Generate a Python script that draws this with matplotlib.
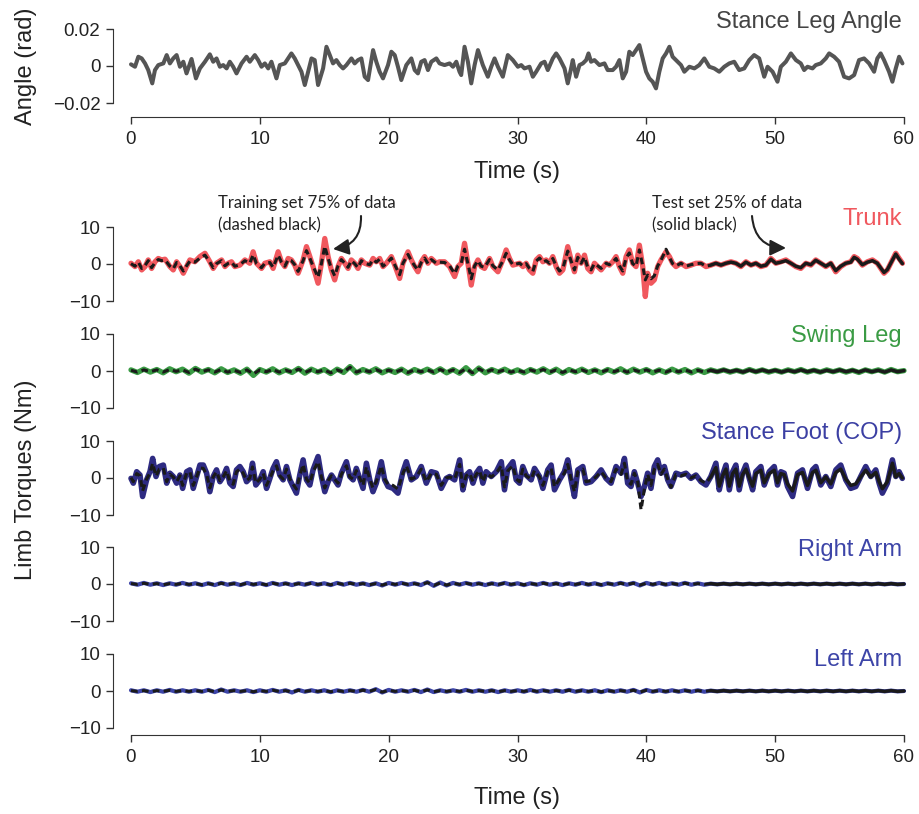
import numpy as np
import matplotlib
matplotlib.use("Agg")
import matplotlib.pyplot as plt

plt.rcParams['font.family'] = ['Liberation Sans', 'DejaVu Sans']

# ---------------- data ----------------
# Stance leg angle (mrad)
angle_t = [0.00, 0.31, 0.57, 0.83, 1.09, 1.34, 1.65, 1.86, 2.12, 2.51,
           2.77, 3.02, 3.28, 3.54, 3.80, 4.06, 4.31, 4.70, 5.04, 5.35,
           5.74, 6.12, 6.38, 6.64, 6.90, 7.16, 7.42, 7.67, 7.93, 8.19,
           8.58, 8.97, 9.22, 9.61, 9.87, 10.13, 10.39, 10.65, 10.90, 11.29,
           11.55, 11.94, 12.20, 12.45, 12.71, 12.97, 13.23, 13.49, 13.75, 14.01,
           14.26, 14.52, 14.91, 15.17, 15.43, 15.68, 15.94, 16.20, 16.46, 16.72,
           17.11, 17.36, 17.62, 17.88, 18.14, 18.40, 18.79, 19.04, 19.30, 19.56,
           19.95, 20.21, 20.47, 20.72, 20.98, 21.37, 21.76, 22.02, 22.27, 22.53,
           22.79, 23.05, 23.31, 23.70, 23.95, 24.34, 24.73, 24.99, 25.25, 25.50,
           25.63, 25.89, 26.15, 26.41, 26.67, 26.93, 27.31, 27.70, 27.96, 28.22,
           28.48, 28.86, 29.25, 29.64, 30.03, 30.29, 30.54, 30.93, 31.19, 31.45,
           31.84, 32.10, 32.35, 32.74, 33.00, 33.26, 33.65, 33.90, 34.16, 34.29,
           34.55, 34.81, 35.07, 35.33, 35.51, 35.71, 35.97, 36.36, 36.75, 37.00,
           37.39, 37.65, 37.91, 38.17, 38.43, 38.68, 38.94, 39.20, 39.46, 39.72,
           39.98, 40.23, 40.49, 40.75, 41.01, 41.27, 41.53, 41.79, 42.04, 42.43,
           42.69, 42.95, 43.34, 43.73, 44.11, 44.50, 44.89, 45.27, 45.66, 46.05,
           46.44, 46.82, 47.21, 47.60, 47.99, 48.37, 48.76, 49.15, 49.41, 49.80,
           50.18, 50.44, 50.83, 51.22, 51.61, 51.99, 52.25, 52.51, 52.90, 53.15,
           53.54, 53.93, 54.19, 54.58, 54.96, 55.35, 55.74, 56.13, 56.51, 56.90,
           57.29, 57.68, 57.93, 58.19, 58.45, 58.84, 59.10, 59.36, 59.62, 59.88]
angle_mrad = [0.9, -0.4, 5.0, 4.1, 1.4, -2.2, -9.4, -2.2, 0.5, 1.4,
              5.9, 1.4, 4.1, 5.9, -0.4, 2.3, -4.0, 3.8, -6.7, -1.3,
              2.3, 6.3, 2.3, 4.1, -0.4, 0.5, -1.3, 2.3, -0.4, -4.0,
              1.4, 5.0, 2.3, 5.9, 3.2, -0.4, 1.4, -1.3, 2.3, -6.7,
              0.5, 1.4, 4.1, 6.8, 4.1, 0.5, -3.1, -10.3, -3.1, 4.1,
              3.2, -10.3, -1.3, 10.4, 5.9, 1.4, 3.2, 0.5, -1.3, 0.5,
              4.1, 1.4, 3.2, 4.1, -5.8, -7.6, 8.6, 2.3, -3.1, -6.7,
              0.5, 7.7, 5.9, -0.4, -7.6, 0.5, 4.1, -2.2, -4.0, 2.3,
              3.2, -2.2, 2.3, 4.1, 1.4, 0.5, 1.4, -0.4, 2.3, -3.1,
              -4.9, 10.4, 2.3, -9.4, 0.5, 8.6, 0.5, -5.8, -0.4, 4.1,
              -0.4, -5.8, 5.9, 3.2, -0.4, 0.5, -1.3, -0.4, -5.8, -3.1,
              1.4, 2.3, -2.2, 4.1, 6.8, 4.1, -1.3, -9.4, -1.3, 3.2,
              -5.8, 0.5, 1.4, 3.2, 6.8, 2.3, 3.2, 0.5, 1.4, -2.2,
              -2.2, -0.4, 3.2, -6.7, -3.1, 7.7, 5.9, 8.6, 11.3, 4.1,
              -3.1, -6.7, -8.5, -12.1, -3.1, 4.1, 6.8, 10.4, 5.0, 2.3,
              0.5, -3.1, -0.4, -1.3, 0.5, 4.1, -0.4, -1.3, -3.1, -0.4,
              1.4, 2.3, -2.2, -1.3, 3.2, 5.9, 4.1, -5.8, -0.4, -3.1,
              -8.5, -0.4, 2.3, 6.8, 3.2, 1.4, -2.2, -0.4, -1.3, 0.5,
              1.4, 4.1, 6.8, 5.0, 2.3, -5.8, -6.7, -4.9, 3.2, 4.1,
              1.4, -3.1, 4.1, 6.8, 3.2, -3.1, -8.5, -1.3, 5.0, 1.4]

# Trunk torque (Nm): measured (red) and model (black)
trunk_t = [0.00, 0.31, 0.57, 0.83, 1.09, 1.34, 1.60, 1.86, 2.12, 2.38,
           2.64, 3.02, 3.28, 3.54, 3.80, 4.06, 4.31, 4.57, 4.96, 5.35,
           5.74, 6.12, 6.38, 6.64, 7.03, 7.29, 7.55, 7.80, 8.06, 8.45,
           8.84, 9.22, 9.48, 9.74, 10.13, 10.39, 10.78, 11.03, 11.42, 11.68,
           11.94, 12.20, 12.45, 12.71, 12.97, 13.36, 13.62, 13.88, 14.13, 14.52,
           14.78, 15.04, 15.30, 15.55, 15.81, 16.07, 16.33, 16.59, 16.85, 17.10,
           17.36, 17.62, 17.88, 18.14, 18.53, 18.79, 19.04, 19.30, 19.56, 19.82,
           20.21, 20.47, 20.85, 21.11, 21.50, 21.76, 22.02, 22.27, 22.53, 22.79,
           23.05, 23.31, 23.70, 23.95, 24.34, 24.73, 25.12, 25.37, 25.63, 25.89,
           26.15, 26.41, 26.67, 26.93, 27.18, 27.44, 27.83, 28.09, 28.48, 28.86,
           29.12, 29.38, 29.64, 30.16, 30.42, 30.67, 30.93, 31.19, 31.45, 31.71,
           31.97, 32.22, 32.48, 32.74, 33.00, 33.26, 33.52, 33.90, 34.16, 34.42,
           34.68, 34.94, 35.20, 35.45, 35.71, 35.97, 36.23, 36.49, 36.88, 37.13,
           37.39, 37.65, 37.91, 38.17, 38.43, 38.68, 38.94, 39.20, 39.46, 39.72,
           39.92, 40.10, 40.36, 40.62, 40.88, 41.14, 41.53, 41.79, 42.04, 42.30,
           42.69, 43.08, 43.46, 43.85, 44.24, 44.63, 45.01, 45.40, 45.79, 46.18,
           46.57, 46.95, 47.34, 47.73, 48.12, 48.50, 48.89, 49.28, 49.67, 50.05,
           50.44, 50.83, 51.22, 51.60, 51.99, 52.38, 52.77, 53.15, 53.54, 53.93,
           54.32, 54.70, 55.09, 55.48, 55.87, 56.13, 56.38, 56.77, 57.16, 57.55,
           57.93, 58.45, 58.71, 58.97, 59.36, 59.62, 59.88]
trunk_meas = [0.2, -0.7, 0.6, -1.6, -0.7, 1.1, -1.2, 0.6, 1.5, 1.1,
              1.3, -0.7, -1.6, 0.6, -0.7, -2.5, -0.7, 1.1, 0.6, 2.0,
              2.9, 0.6, -1.2, 0.2, 1.1, -0.7, 0.2, 0.6, -0.7, -0.3,
              1.1, 0.2, 3.3, 0.2, -1.2, 0.2, 0.6, -1.2, 3.3, 0.6,
              -0.7, 1.5, 1.1, -0.3, -2.5, 1.1, 4.7, 2.0, -0.7, -5.2,
              0.2, 6.9, 2.0, -1.6, -4.3, -0.7, 1.5, 0.2, -1.2, 1.1,
              0.2, -1.2, 1.1, 0.2, -0.3, 1.5, 0.6, 1.5, -0.7, 0.2,
              2.0, -0.3, -3.9, 0.2, 3.3, 1.1, -0.7, -2.1, 0.6, 2.0,
              0.2, 1.5, 0.2, 0.6, 0.6, -0.7, -3.4, -0.7, 0.2, 5.6,
              0.2, -5.7, -0.7, 1.1, -0.7, -1.2, 1.5, -0.7, -2.1, 1.1,
              3.8, 1.5, -0.3, 0.2, -0.7, 0.2, -1.6, -2.5, 1.1, 2.0,
              0.6, 1.1, 0.2, 2.0, -0.7, -2.5, -1.6, 4.7, 1.1, -2.1,
              2.4, 0.2, 2.4, -1.2, -2.1, 0.2, -0.7, -1.6, 0.2, -0.3,
              0.6, 2.0, -0.7, -2.5, 2.0, 3.8, 0.2, -0.7, 5.1, -0.7,
              -8.8, -2.5, -5.2, -4.3, -0.7, 1.1, 3.3, 2.0, 0.2, -0.7,
              0.2, -0.7, -0.3, 0.2, 0.2, -0.7, -0.3, 0.2, -0.3, 0.2,
              0.6, 0.2, -0.7, 0.6, -0.3, 0.2, -0.7, -0.3, 1.5, 0.2,
              0.6, 1.1, 0.2, -0.7, -1.2, 0.2, -0.3, 1.1, 0.2, -0.7,
              0.2, -2.1, -0.7, 0.2, 0.6, 2.0, 1.5, -0.3, 0.6, 1.1,
              0.2, -2.5, -1.6, 0.2, 2.9, 1.5, 0.2]
trunk_model = [0.1, -0.6, 0.5, -1.2, -0.4, 0.9, -1.0, 0.4, 1.2, 0.9,
               1.1, -0.6, -1.3, 0.4, -0.5, -1.9, -0.5, 0.8, 0.5, 1.6,
               2.4, 0.5, -1.0, 0.1, 0.9, -0.5, 0.2, 0.5, -0.6, -0.2,
               0.9, 0.2, 2.5, 0.1, -1.0, 0.2, 0.4, -0.9, 2.4, 0.5,
               -0.6, 1.2, 0.9, -0.2, -2.0, 0.9, 3.6, 1.6, -0.6, -3.6,
               0.1, 4.8, 1.5, -1.2, -3.2, -0.5, 1.2, 0.2, -0.9, 0.9,
               0.1, -1.0, 0.9, 0.2, -0.2, 1.2, 0.5, 1.3, -0.6, 0.1,
               1.6, -0.2, -2.9, 0.2, 2.6, 0.9, -0.5, -1.6, 0.4, 1.6,
               0.1, 1.2, 0.2, 0.5, 0.4, -0.5, -2.6, -0.6, 0.2, 4.0,
               0.1, -4.0, -0.5, 0.9, -0.6, -0.9, 1.2, -0.5, -1.6, 0.8,
               2.9, 1.1, -0.2, 0.2, -0.5, 0.1, -1.2, -2.0, 0.8, 1.6,
               0.5, 0.9, 0.2, 1.5, -0.5, -1.9, -1.2, 3.5, 0.8, -1.6,
               1.8, 0.2, 1.9, -0.9, -1.6, 0.1, -0.5, -1.2, 0.2, -0.2,
               0.5, 1.5, -0.5, -1.9, 1.6, 3.0, 0.1, -0.6, 3.8, -0.5,
               -4.3, -3.0, -4.0, -3.2, -0.5, 1.0, 4.0, 1.8, 0.1, -0.5,
               0.2, -0.6, -0.2, 0.1, 0.2, -0.6, -0.3, 0.2, -0.3, 0.2,
               0.5, 0.2, -0.6, 0.5, -0.3, 0.2, -0.6, -0.3, 1.3, 0.2,
               0.5, 0.9, 0.2, -0.6, -1.0, 0.2, -0.2, 1.0, 0.2, -0.6,
               0.2, -1.8, -0.6, 0.2, 0.5, 1.8, 1.3, -0.2, 0.5, 0.9,
               0.2, -2.3, -1.5, 0.2, 2.7, 1.3, 0.1]

# Stance foot (COP) torque (Nm)
foot_t = [0.00, 0.18, 0.44, 0.70, 0.90, 1.21, 1.47, 1.68, 1.94, 2.20,
          2.51, 2.77, 3.02, 3.28, 3.54, 3.80, 4.01, 4.32, 4.57, 4.83,
          5.09, 5.35, 5.61, 5.87, 6.12, 6.38, 6.64, 6.90, 7.16, 7.42,
          7.67, 7.93, 8.19, 8.45, 8.71, 8.97, 9.22, 9.43, 9.69, 10.00,
          10.26, 10.52, 10.78, 11.03, 11.29, 11.55, 11.81, 12.07, 12.33, 12.58,
          12.84, 13.10, 13.36, 13.62, 13.88, 14.13, 14.52, 14.78, 15.04, 15.30,
          15.56, 15.81, 16.07, 16.33, 16.72, 16.98, 17.24, 17.49, 17.75, 18.01,
          18.27, 18.53, 18.78, 19.04, 19.43, 19.69, 19.95, 20.34, 20.72, 21.11,
          21.37, 21.76, 22.14, 22.53, 22.92, 23.31, 23.70, 24.08, 24.47, 24.73,
          25.12, 25.51, 25.76, 26.02, 26.28, 26.54, 26.80, 27.06, 27.31, 27.57,
          27.96, 28.35, 28.74, 28.99, 29.25, 29.64, 29.90, 30.16, 30.41, 30.67,
          31.06, 31.32, 31.71, 31.97, 32.35, 32.61, 32.87, 33.26, 33.64, 33.90,
          34.16, 34.42, 34.68, 35.07, 35.32, 35.71, 36.10, 36.49, 36.87, 37.26,
          37.65, 38.04, 38.30, 38.55, 38.81, 39.07, 39.33, 39.59, 39.85, 40.10,
          40.36, 40.62, 40.88, 41.14, 41.40, 41.66, 41.91, 42.30, 42.69, 43.08,
          43.46, 43.85, 44.24, 44.63, 45.01, 45.40, 45.66, 45.92, 46.18, 46.44,
          46.70, 46.95, 47.21, 47.47, 47.73, 47.99, 48.25, 48.50, 48.89, 49.15,
          49.54, 49.93, 50.18, 50.44, 50.70, 50.96, 51.35, 51.74, 52.12, 52.51,
          52.90, 53.16, 53.54, 53.93, 54.32, 54.71, 55.09, 55.48, 55.87, 56.26,
          56.64, 57.03, 57.42, 57.81, 58.07, 58.32, 58.71, 59.10, 59.36, 59.62,
          59.87]
foot_meas = [-0.1, -1.4, 1.7, 0.8, -5.0, -0.5, 1.7, 5.3, 0.4, 3.1,
             3.5, -1.4, 1.3, 0.4, -1.4, 0.8, -2.8, 1.7, 2.2, -2.8,
             0.4, 3.5, 3.5, 1.3, -3.7, 0.4, 2.2, -1.0, 0.4, 2.6,
             -1.4, -2.3, 2.2, 3.1, 1.7, -1.0, -0.1, 4.0, -1.9, -0.5,
             1.7, -2.8, -0.1, 2.6, 4.4, 0.8, -0.5, 3.1, -0.5, -2.3,
             -4.1, 0.8, 4.9, -0.5, -1.9, 2.2, 5.8, 0.4, -3.7, -1.0,
             0.8, -0.5, -1.9, 1.3, 4.4, 0.4, -0.5, 2.6, -0.1, -2.8,
             4.0, -0.5, -3.7, -1.4, 4.4, -0.5, -2.3, -2.8, -4.1, 1.7,
             4.4, -0.5, 0.4, 3.1, -1.4, 1.7, 1.3, -2.8, -0.1, 0.4,
             -0.5, 4.9, -3.2, 0.8, 1.7, -1.4, 1.3, 2.6, -1.4, 1.7,
             0.4, 1.7, 4.4, -3.2, 2.6, 4.4, -0.5, -1.4, 3.1, 0.8,
             -0.5, 2.6, 0.4, -2.8, 2.2, 3.5, -3.2, -0.5, 1.7, 4.9,
             -0.5, -5.0, 2.2, 3.1, -1.4, -1.0, 0.4, 2.2, -0.1, -1.4,
             3.1, 1.3, 5.3, -1.4, -2.3, 1.7, -1.4, -5.0, -2.3, 1.3,
             -2.8, 3.1, 4.9, 1.3, 3.1, -0.5, -2.3, 1.3, 0.8, 1.3,
             -0.1, 0.8, -1.0, -1.9, 0.4, 4.0, -3.2, 0.8, 3.5, -3.2,
             1.7, 3.5, -3.2, 1.3, 3.5, -0.1, -3.2, 1.7, 3.1, -1.9,
             1.7, 3.1, -1.9, 1.7, 1.3, -2.3, -5.0, 1.3, 2.2, -2.8,
             2.2, 3.1, -1.9, 0.4, -2.3, 2.2, 3.5, -0.5, -2.8, -2.3,
             0.4, 3.1, 0.4, 2.2, -1.4, -4.1, -1.4, 4.9, 0.4, 1.7,
             -0.1]
foot_model = [0.1, -1.0, 1.2, 0.6, -3.5, -0.3, 1.3, 4.0, 0.5, 2.4,
              2.7, -1.0, 1.0, 0.3, -1.0, 0.6, -2.0, 1.3, 1.7, -2.0,
              0.3, 2.7, 2.6, 1.0, -2.7, 0.3, 1.7, -0.7, 0.3, 2.0,
              -1.0, -1.7, 1.7, 2.4, 1.3, -0.7, 0.0, 3.0, -1.4, -0.3,
              1.3, -2.0, 0.0, 2.0, 3.3, 0.6, -0.3, 2.4, -0.3, -1.7,
              -3.0, 0.6, 3.7, -0.3, -1.4, 1.7, 4.4, 0.3, -2.7, -0.7,
              0.6, -0.3, -1.4, 1.0, 3.3, 0.3, -0.3, 2.0, 0.0, -2.0,
              3.0, -0.3, -2.7, -1.0, 3.3, -0.3, -1.7, -2.0, -3.0, 1.3,
              3.3, -0.3, 0.3, 2.4, -1.0, 1.3, 1.0, -2.0, 0.0, 0.3,
              -0.3, 3.7, -2.4, 0.6, 1.3, -1.0, 1.0, 2.0, -1.0, 1.3,
              0.3, 1.3, 3.3, -2.4, 2.0, 3.3, -0.3, -1.0, 2.4, 0.6,
              -0.3, 2.0, 0.3, -2.0, 1.7, 2.7, -2.4, -0.3, 1.3, 3.7,
              -0.3, -3.7, 1.7, 2.4, -1.0, -0.7, 0.3, 1.7, 0.0, -1.0,
              2.4, 1.0, 4.0, -1.0, -1.7, 1.3, -1.0, -8.6, -3.0, 1.0,
              -2.0, 2.4, 3.7, 1.0, 2.4, -0.3, -2.5, 1.0, 0.6, 1.0,
              0.0, 0.6, -0.7, -1.4, 0.3, 2.8, -2.2, 0.6, 2.4, -2.2,
              1.2, 2.4, -2.2, 0.9, 2.4, 0.0, -2.2, 1.2, 2.1, -1.3,
              1.2, 2.1, -1.3, 1.2, 0.9, -1.6, -3.5, 0.9, 1.5, -2.0,
              1.5, 2.1, -1.3, 0.3, -1.6, 1.5, 2.4, -0.3, -2.0, -1.6,
              0.3, 2.1, 0.3, 1.5, -1.0, -2.9, -1.0, 4.0, 0.3, 1.2,
              0.0]

# Swing leg torque (Nm), sampled every 0.5 s
swing_meas = [0.3, -0.4, 0.5, -0.3, 0.4, -0.5, 0.6, -0.2, 0.5, -0.6,
              0.7, -0.3, 0.4, -0.5, 0.6, -0.4, 0.3, -0.6, 0.5, -1.2,
              0.4, -0.3, 0.6, -0.5, 0.3, -0.4, 0.7, -0.6, 0.5, -0.3,
              0.4, -0.7, 0.5, -0.4, 1.2, -0.5, 0.4, -0.3, 0.6, -0.5,
              0.3, -0.4, 0.5, -0.6, 0.4, -0.3, 0.5, -0.4, 0.6, -0.5,
              0.4, -0.6, 0.9, -0.7, 0.8, -0.5, 0.4, -0.3, 0.5, -0.4,
              0.3, -0.5, 0.4, -0.3, 0.6, -0.4, 0.5, -0.6, 0.4, -0.3,
              0.5, -0.4, 0.3, -0.5, 0.4, -0.3, 0.6, -0.4, 0.5, -0.3,
              0.4, -0.5, 0.3, -0.4, 0.5, -0.3, 0.4, -0.5, 0.3, -0.4,
              0.3, -0.2, 0.3, -0.3, 0.2, -0.3, 0.4, -0.2, 0.3, -0.3,
              0.2, -0.3, 0.3, -0.2, 0.4, -0.3, 0.2, -0.3, 0.3, -0.2,
              0.3, -0.3, 0.2, -0.4, 0.3, -0.2, 0.3, -0.3, 0.4, -0.2,
              0.1]
swing_model = [0.2, -0.3, 0.3, -0.2, 0.3, -0.3, 0.4, -0.1, 0.3, -0.4,
               0.5, -0.2, 0.3, -0.3, 0.4, -0.3, 0.2, -0.4, 0.3, -0.8,
               0.3, -0.2, 0.4, -0.3, 0.2, -0.3, 0.5, -0.4, 0.3, -0.2,
               0.3, -0.5, 0.3, -0.3, 1.0, -0.3, 0.3, -0.2, 0.4, -0.3,
               0.2, -0.3, 0.3, -0.4, 0.3, -0.2, 0.3, -0.3, 0.4, -0.3,
               0.3, -0.4, 0.6, -0.5, 0.6, -0.3, 0.3, -0.2, 0.3, -0.3,
               0.2, -0.3, 0.3, -0.2, 0.4, -0.3, 0.3, -0.4, 0.3, -0.2,
               0.3, -0.3, 0.2, -0.3, 0.3, -0.2, 0.4, -0.3, 0.3, -0.2,
               0.3, -0.3, 0.2, -0.3, 0.3, -0.2, 0.3, -0.3, 0.2, -0.3,
               0.2, -0.2, 0.3, -0.2, 0.2, -0.3, 0.3, -0.2, 0.3, -0.2,
               0.2, -0.3, 0.2, -0.2, 0.3, -0.2, 0.2, -0.3, 0.2, -0.2,
               0.3, -0.2, 0.2, -0.3, 0.3, -0.2, 0.2, -0.3, 0.3, -0.2,
               0.1]

# Arm torques (Nm), sampled every 0.5 s
rarm_meas = [0.2, -0.2, 0.3, -0.2, 0.2, -0.3, 0.2, -0.2, 0.3, -0.2,
             0.2, -0.3, 0.2, -0.3, 0.3, -0.2, 0.2, -0.3, 0.3, -0.2,
             0.2, -0.3, 0.3, -0.2, 0.2, -0.3, 0.2, -0.2, 0.3, -0.2,
             0.2, -0.3, 0.3, -0.2, 0.3, -0.2, 0.2, -0.3, 0.2, -0.4,
             0.3, -0.2, 0.3, -0.2, 0.2, -0.3, 0.5, -0.5, 0.4, -0.4,
             0.3, -0.2, 0.3, -0.2, 0.2, -0.3, 0.2, -0.2, 0.3, -0.2,
             0.2, -0.3, 0.2, -0.2, 0.3, -0.2, 0.2, -0.3, 0.2, -0.2,
             0.3, -0.2, 0.2, -0.3, 0.2, -0.2, 0.3, -0.2, 0.3, -0.4,
             0.3, -0.2, 0.3, -0.2, 0.2, -0.2, 0.3, -0.2, 0.2, -0.2,
             0.1, -0.1, 0.1, -0.1, 0.1, -0.1, 0.1, -0.1, 0.1, -0.1,
             0.1, -0.1, 0.1, -0.1, 0.1, -0.1, 0.1, -0.1, 0.1, -0.1,
             0.1, -0.1, 0.1, -0.1, 0.1, -0.1, 0.1, -0.1, 0.1, -0.1,
             0.0]
rarm_model = [0.1, -0.1, 0.2, -0.1, 0.1, -0.2, 0.1, -0.1, 0.2, -0.1,
              0.1, -0.2, 0.1, -0.2, 0.2, -0.1, 0.1, -0.2, 0.2, -0.1,
              0.1, -0.2, 0.2, -0.1, 0.1, -0.2, 0.1, -0.1, 0.2, -0.1,
              0.1, -0.2, 0.2, -0.1, 0.2, -0.1, 0.1, -0.2, 0.1, -0.3,
              0.2, -0.1, 0.2, -0.1, 0.1, -0.2, 0.4, -0.4, 0.3, -0.3,
              0.2, -0.1, 0.2, -0.1, 0.1, -0.2, 0.1, -0.1, 0.2, -0.1,
              0.1, -0.2, 0.1, -0.1, 0.2, -0.1, 0.1, -0.2, 0.1, -0.1,
              0.2, -0.1, 0.1, -0.2, 0.1, -0.1, 0.2, -0.1, 0.2, -0.3,
              0.2, -0.1, 0.2, -0.1, 0.1, -0.1, 0.2, -0.1, 0.1, -0.1,
              0.1, -0.1, 0.1, -0.1, 0.1, -0.1, 0.1, -0.1, 0.1, -0.1,
              0.1, -0.1, 0.1, -0.1, 0.1, -0.1, 0.1, -0.1, 0.1, -0.1,
              0.1, -0.1, 0.1, -0.1, 0.1, -0.1, 0.1, -0.1, 0.1, -0.1,
              0.0]
larm_meas = [0.2, -0.2, 0.2, -0.3, 0.2, -0.2, 0.3, -0.2, 0.2, -0.2,
             0.2, -0.2, 0.3, -0.3, 0.4, -0.2, 0.2, -0.2, 0.2, -0.3,
             0.2, -0.2, 0.3, -0.2, 0.2, -0.4, 0.3, -0.2, 0.2, -0.2,
             0.2, -0.3, 0.2, -0.2, 0.2, -0.2, 0.3, -0.2, 0.5, -0.4,
             0.3, -0.2, 0.2, -0.2, 0.3, -0.3, 0.4, -0.3, 0.2, -0.2,
             0.2, -0.2, 0.3, -0.2, 0.2, -0.2, 0.2, -0.3, 0.2, -0.2,
             0.2, -0.2, 0.3, -0.2, 0.2, -0.2, 0.2, -0.2, 0.3, -0.2,
             0.2, -0.2, 0.2, -0.3, 0.2, -0.2, 0.2, -0.2, 0.3, -0.4,
             0.3, -0.2, 0.2, -0.2, 0.2, -0.2, 0.2, -0.2, 0.2, -0.2,
             0.1, -0.1, 0.1, -0.1, 0.1, -0.1, 0.1, -0.1, 0.1, -0.1,
             0.1, -0.1, 0.1, -0.1, 0.1, -0.1, 0.1, -0.1, 0.1, -0.1,
             0.1, -0.1, 0.1, -0.1, 0.1, -0.1, 0.1, -0.1, 0.1, -0.1,
             0.0]
larm_model = [0.1, -0.1, 0.1, -0.2, 0.1, -0.1, 0.2, -0.1, 0.1, -0.1,
              0.1, -0.1, 0.2, -0.2, 0.3, -0.1, 0.1, -0.1, 0.1, -0.2,
              0.1, -0.1, 0.2, -0.1, 0.1, -0.3, 0.2, -0.1, 0.1, -0.1,
              0.1, -0.2, 0.1, -0.1, 0.1, -0.1, 0.2, -0.1, 0.4, -0.3,
              0.2, -0.1, 0.1, -0.1, 0.2, -0.2, 0.3, -0.2, 0.1, -0.1,
              0.1, -0.1, 0.2, -0.1, 0.1, -0.1, 0.1, -0.2, 0.1, -0.1,
              0.1, -0.1, 0.2, -0.1, 0.1, -0.1, 0.1, -0.1, 0.2, -0.1,
              0.1, -0.1, 0.1, -0.2, 0.1, -0.1, 0.1, -0.1, 0.2, -0.3,
              0.2, -0.1, 0.1, -0.1, 0.1, -0.1, 0.1, -0.1, 0.1, -0.1,
              0.1, -0.1, 0.1, -0.1, 0.1, -0.1, 0.1, -0.1, 0.1, -0.1,
              0.1, -0.1, 0.1, -0.1, 0.1, -0.1, 0.1, -0.1, 0.1, -0.1,
              0.1, -0.1, 0.1, -0.1, 0.1, -0.1, 0.1, -0.1, 0.1, -0.1,
              0.0]
sample_t = np.linspace(0, 60, len(swing_meas))

split_time = 45.0  # training (75%) / test (25%)
x_ticks = [0, 10, 20, 30, 40, 50, 60]

# ---------------- layout ----------------
W, H = 919, 814
fig = plt.figure(figsize=(W / 100, H / 100), dpi=100)
X0, X1 = 131, 904
AXC = '#333333'
TICKFS = 13.5
TITLEFS = 17


def add_ax(top, bottom):
    return fig.add_axes([X0 / W, 1 - bottom / H, (X1 - X0) / W, (bottom - top) / H])


def style(ax, ylim, yticks, ylabels, xaxis=False, xout=0):
    ax.set_xlim(0, 60)
    ax.set_ylim(*ylim)
    for s in ['top', 'right']:
        ax.spines[s].set_visible(False)
    ax.spines['left'].set_position(('outward', 18 * 0.72))
    ax.spines['left'].set_bounds(yticks[0], yticks[-1])
    ax.spines['left'].set_color(AXC)
    ax.set_yticks(yticks)
    ax.set_yticklabels(ylabels)
    ax.tick_params(axis='y', length=5, width=1, color=AXC, labelsize=TICKFS,
                   pad=4, labelcolor='#222222')
    ax.patch.set_visible(False)
    if xaxis:
        ax.spines['bottom'].set_position(('outward', xout * 0.72))
        ax.spines['bottom'].set_bounds(0, 60)
        ax.spines['bottom'].set_color(AXC)
        ax.set_xticks(x_ticks)
        ax.set_xticklabels([str(v) for v in x_ticks])
        ax.tick_params(axis='x', length=5, width=1, color=AXC, labelsize=TICKFS,
                       pad=5, labelcolor='#222222')
    else:
        ax.spines['bottom'].set_visible(False)
        ax.set_xticks([])


def ftext(x, y, s, **kw):
    fig.text(x / W, 1 - y / H, s, **kw)


# ---------- top panel: stance leg angle ----------
ax0 = add_ax(29, 103)
style(ax0, (-0.02, 0.02), [-0.02, 0, 0.02], ['\u22120.02', '0', '0.02'], xaxis=True, xout=14)
ax0.plot(angle_t, np.array(angle_mrad) / 1000.0, color='#555555', lw=2.9,
         solid_joinstyle='round', solid_capstyle='round', clip_on=False)
ftext(902, 22, 'Stance Leg Angle', ha='right', va='center', fontsize=TITLEFS, color='#444444')
ftext(26, 66, 'Angle (rad)', ha='center', va='center', rotation=90, fontsize=TITLEFS, color='#222222')
ftext(517, 172, 'Time (s)', ha='center', va='center', fontsize=TITLEFS, color='#222222')

# ---------- torque panels ----------
zeros = [264, 371, 478, 584, 691]
panels = [
    ('Trunk', trunk_t, trunk_meas, trunk_model, '#F0585E', '#F0585E', 3.8),
    ('Swing Leg', sample_t, swing_meas, swing_model, '#3A9B44', '#3A9B44', 3.8),
    ('Stance Foot (COP)', foot_t, foot_meas, foot_model, '#2E2B82', '#3B3FA3', 4.0),
    ('Right Arm', sample_t, rarm_meas, rarm_model, '#3D45A8', '#3D45A8', 3.0),
    ('Left Arm', sample_t, larm_meas, larm_model, '#3D45A8', '#3D45A8', 3.0),
]
title_y = [219, 336, 433, 550, 660]
for i, (name, tt, meas, model, col, tcol, lw) in enumerate(panels):
    z = zeros[i]
    ax = add_ax(z - 37, z + 37)
    last = (i == len(panels) - 1)
    style(ax, (-10, 10), [-10, 0, 10], ['\u221210', '0', '10'], xaxis=last, xout=7)
    tt = np.asarray(tt, dtype=float)
    meas = np.asarray(meas, dtype=float)
    model = np.asarray(model, dtype=float)
    ax.plot(tt, meas, color=col, lw=lw, solid_joinstyle='round',
            solid_capstyle='round', clip_on=False, zorder=2)
    tr = tt <= split_time + 0.3
    te = tt >= split_time - 0.3
    ax.plot(tt[tr], model[tr], color='#1a1a1a', lw=2.2,
            linestyle=(0, (2.2, 1.4)), clip_on=False, zorder=3)
    ax.plot(tt[te], model[te], color='#1a1a1a', lw=2.5, solid_joinstyle='round',
            solid_capstyle='round', clip_on=False, zorder=3)
    ftext(902, title_y[i], name, ha='right', va='center', fontsize=TITLEFS, color=tcol)

ftext(26, 480, 'Limb Torques (Nm)', ha='center', va='center', rotation=90,
      fontsize=TITLEFS, color='#222222')
ftext(517, 798, 'Time (s)', ha='center', va='center', fontsize=TITLEFS, color='#222222')

# ---------- annotations ----------
ann_font = ['Lato', 'DejaVu Sans']
ann_fs = 12
ftext(218, 203, 'Training set 75% of data', ha='left', va='center', fontsize=ann_fs,
      family=ann_font, color='#222222')
ftext(218, 225, '(dashed black)', ha='left', va='center', fontsize=ann_fs,
      family=ann_font, color='#222222')
ftext(652, 203, 'Test set 25% of data', ha='left', va='center', fontsize=ann_fs,
      family=ann_font, color='#222222')
ftext(652, 225, '(solid black)', ha='left', va='center', fontsize=ann_fs,
      family=ann_font, color='#222222')

arrow_kw = dict(arrowstyle='-|>,head_length=0.8,head_width=0.4', color='#222222', lw=1.5,
                shrinkA=0, shrinkB=0, mutation_scale=12)
fig.add_artist(matplotlib.patches.FancyArrowPatch(
    (361, H - 216), (333, H - 249), transform=None,
    connectionstyle='arc3,rad=-0.45', **arrow_kw))
fig.add_artist(matplotlib.patches.FancyArrowPatch(
    (752, H - 216), (786, H - 248), transform=None,
    connectionstyle='arc3,rad=0.45', **arrow_kw))

fig.savefig('out.png', dpi=100)
